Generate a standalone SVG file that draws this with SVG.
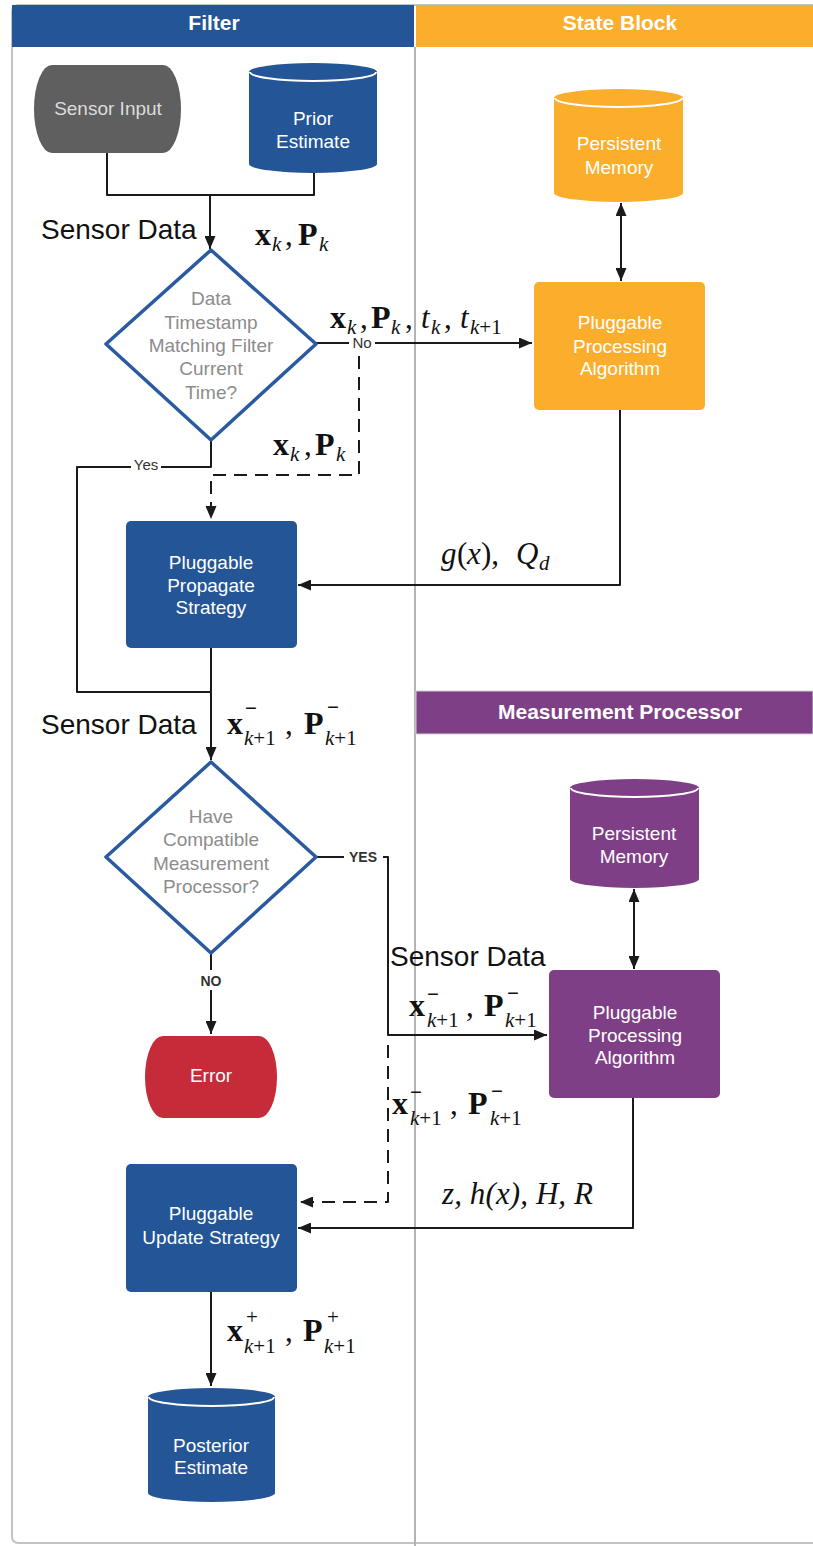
<svg xmlns="http://www.w3.org/2000/svg" width="813" height="1546" viewBox="0 0 813 1546">
<defs>
<style>
.hdr{font-family:"Liberation Sans",Arial,sans-serif;font-weight:bold;font-size:21px;fill:#fff;text-anchor:middle}
.nt{font-family:"Liberation Sans",Arial,sans-serif;font-size:19px;fill:#fff;text-anchor:middle}
.dt{font-family:"Liberation Sans",Arial,sans-serif;font-size:19px;fill:#8c8c8c;text-anchor:middle}
.lbl{font-family:"Liberation Sans",Arial,sans-serif;font-size:28px;fill:#111}
.m{font-family:"Liberation Serif","Times New Roman",serif;fill:#111;font-size:31px}
.mb{font-weight:bold;font-size:32px}
.ms{font-size:21px}
.sup{font-size:21px;font-weight:bold}
.it{font-style:italic}
.edge{fill:none;stroke:#1a1a1a;stroke-width:2;stroke-linejoin:round}
.dash{stroke-dasharray:13 8}
.tag{font-family:"Liberation Sans",Arial,sans-serif;font-size:15px;fill:#333;text-anchor:middle}
.tagb{font-family:"Liberation Sans",Arial,sans-serif;font-size:14px;font-weight:bold;fill:#333;text-anchor:middle}
.lid{fill:none;stroke:#fff;stroke-width:2}
</style>
<marker id="ah" viewBox="0 0 13 11" refX="13" refY="5.5" markerWidth="13" markerHeight="11" markerUnits="userSpaceOnUse" orient="auto-start-reverse">
<path d="M0,0 L13,5.5 L0,11 Z" fill="#1a1a1a"/>
</marker>
</defs>
<rect width="813" height="1546" fill="#fff"/>

<g id="lanes">
<rect x="12" y="5" width="830" height="1538" rx="6" fill="none" stroke="#c4c4c4" stroke-width="2"/>
<line x1="415" y1="47" x2="415" y2="1546" stroke="#b4b4b4" stroke-width="2"/>
<rect x="12" y="5" width="402" height="42" fill="#245596"/>
<text class="hdr" x="214" y="30">Filter</text>
<rect x="416" y="5" width="397" height="42" fill="#fbae2c"/>
<text class="hdr" x="620" y="30">State Block</text>
<rect x="416" y="691" width="397" height="43" fill="#7f3f86" stroke="#d0d0d0" stroke-width="1"/>
<text class="hdr" x="620" y="719">Measurement Processor</text>
</g>

<g id="connectors">
<path class="edge" d="M107,153 V195 H314 V173"/>
<path class="edge" d="M210,195 V249" marker-end="url(#ah)"/>
<path class="edge" d="M316,343 H532" marker-end="url(#ah)"/>
<path class="edge dash" d="M359,356 V475 H211 V519" marker-end="url(#ah)"/>
<path class="edge" d="M211,440 V467 H77 V692 H211"/>
<path class="edge" d="M211,648 V760" marker-end="url(#ah)"/>
<path class="edge" d="M620,410 V585 H298" marker-end="url(#ah)"/>
<path class="edge" d="M621,203 V281" marker-start="url(#ah)" marker-end="url(#ah)"/>
<path class="edge" d="M316,857 H388 V1035 H547" marker-end="url(#ah)"/>
<path class="edge dash" d="M388,1045 V1202 H300" marker-end="url(#ah)"/>
<path class="edge" d="M211,953 V1034" marker-end="url(#ah)"/>
<path class="edge" d="M634,889 V969" marker-start="url(#ah)" marker-end="url(#ah)"/>
<path class="edge" d="M633,1098 V1228 H298" marker-end="url(#ah)"/>
<path class="edge" d="M211,1292 V1386" marker-end="url(#ah)"/>
<rect x="349" y="335" width="26" height="16" fill="#fff"/>
<text class="tag" x="362" y="348">No</text>
<rect x="131" y="458" width="30" height="16" fill="#fff"/>
<text class="tag" x="146" y="470">Yes</text>
<rect x="344" y="849" width="39" height="16" fill="#fff"/>
<text class="tagb" x="363" y="862">YES</text>
<rect x="198" y="970" width="26" height="20" fill="#fff"/>
<text class="tagb" x="211" y="986">NO</text>
</g>

<g id="labels">
<text class="lbl" x="41" y="239">Sensor Data</text>
<text class="m"><tspan class="mb" x="255" y="245">x</tspan><tspan class="ms it" x="272" y="251">k</tspan><tspan x="285" y="245">,</tspan><tspan class="mb" x="298" y="245">P</tspan><tspan class="ms it" x="319" y="251">k</tspan></text>
<text class="m"><tspan class="mb" x="330" y="328">x</tspan><tspan class="ms it" x="347" y="334">k</tspan><tspan x="360" y="328">,</tspan><tspan class="mb" x="371" y="328">P</tspan><tspan class="ms it" x="391" y="334">k</tspan><tspan x="405" y="328">,</tspan><tspan class="it" x="421" y="328">t</tspan><tspan class="ms it" x="431" y="334">k</tspan><tspan x="444" y="328">,</tspan><tspan class="it" x="460" y="328">t</tspan><tspan class="ms" x="470" y="334"><tspan class="it">k</tspan>+1</tspan></text>
<text class="m"><tspan class="mb" x="273" y="455">x</tspan><tspan class="ms it" x="290" y="461">k</tspan><tspan x="304" y="455">,</tspan><tspan class="mb" x="315" y="455">P</tspan><tspan class="ms it" x="336" y="461">k</tspan></text>
<text class="m"><tspan class="it" x="441" y="564">g</tspan><tspan x="457" y="564">(</tspan><tspan class="it" x="467" y="564">x</tspan><tspan x="481" y="564">),</tspan><tspan class="it" x="516" y="564">Q</tspan><tspan class="ms it" x="539" y="570">d</tspan></text>
<text class="lbl" x="41" y="734">Sensor Data</text>
<text class="m"><tspan class="mb" x="227" y="734">x</tspan><tspan class="sup" x="245" y="715">−</tspan><tspan class="ms" x="244" y="745"><tspan class="it">k</tspan>+1</tspan><tspan x="285" y="734">,</tspan><tspan class="mb" x="304" y="734">P</tspan><tspan class="sup" x="327" y="714">−</tspan><tspan class="ms" x="325" y="745"><tspan class="it">k</tspan>+1</tspan></text>
<text class="lbl" x="390" y="966">Sensor Data</text>
<text class="m"><tspan class="mb" x="409" y="1016">x</tspan><tspan class="sup" x="427" y="1001">−</tspan><tspan class="ms" x="427" y="1027"><tspan class="it">k</tspan>+1</tspan><tspan x="466" y="1016">,</tspan><tspan class="mb" x="484" y="1016">P</tspan><tspan class="sup" x="507" y="1000">−</tspan><tspan class="ms" x="505" y="1027"><tspan class="it">k</tspan>+1</tspan></text>
<text class="m"><tspan class="mb" x="392" y="1114">x</tspan><tspan class="sup" x="410" y="1099">−</tspan><tspan class="ms" x="410" y="1125"><tspan class="it">k</tspan>+1</tspan><tspan x="450" y="1114">,</tspan><tspan class="mb" x="468" y="1114">P</tspan><tspan class="sup" x="491" y="1098">−</tspan><tspan class="ms" x="490" y="1125"><tspan class="it">k</tspan>+1</tspan></text>
<text class="m it" x="442" y="1204" textLength="151" lengthAdjust="spacing">z, h(x), H, R</text>
<text class="m"><tspan class="mb" x="227" y="1341">x</tspan><tspan class="ms" x="246" y="1324">+</tspan><tspan class="ms" x="244" y="1353"><tspan class="it">k</tspan>+1</tspan><tspan x="285" y="1341">,</tspan><tspan class="mb" x="303" y="1341">P</tspan><tspan class="ms" x="327" y="1324">+</tspan><tspan class="ms" x="324" y="1353"><tspan class="it">k</tspan>+1</tspan></text>
</g>

<g id="sensor-input">
<path d="M52,65 H163 A18,44 0 0 1 163,153 H52 A18,44 0 0 1 52,65 Z" fill="#5f5f5f"/>
<text class="nt" x="108" y="115" style="fill:#dcdcdc">Sensor Input</text>
</g>

<g id="prior-estimate">
<path d="M249,72 A64,9 0 0 1 377,72 V164 A64,9 0 0 1 249,164 Z" fill="#245596"/>
<path class="lid" d="M250,72 A63,9 0 0 0 376,72"/>
<text class="nt" x="313" y="125">Prior</text>
<text class="nt" x="313" y="148">Estimate</text>
</g>

<g id="decision-timestamp">
<polygon points="211,250 316,344 211,440 106,344" fill="#fff" stroke="#2a5a9f" stroke-width="3.5" stroke-linejoin="round"/>
<text class="dt" x="211" y="305">Data</text>
<text class="dt" x="211" y="329">Timestamp</text>
<text class="dt" x="211" y="352">Matching Filter</text>
<text class="dt" x="211" y="375">Current</text>
<text class="dt" x="211" y="399">Time?</text>
</g>

<g id="state-memory">
<path d="M554,98 A64.5,9 0 0 1 683,98 V193 A64.5,9 0 0 1 554,193 Z" fill="#fbae2c"/>
<path class="lid" d="M555,98 A63.5,9 0 0 0 682,98"/>
<text class="nt" x="619" y="150">Persistent</text>
<text class="nt" x="619" y="174">Memory</text>
</g>

<g id="state-algorithm">
<rect x="534" y="282" width="171" height="128" rx="5" fill="#fbae2c"/>
<text class="nt" x="620" y="329">Pluggable</text>
<text class="nt" x="620" y="353">Processing</text>
<text class="nt" x="620" y="375">Algorithm</text>
</g>

<g id="propagate">
<rect x="126" y="521" width="171" height="127" rx="5" fill="#245596"/>
<text class="nt" x="211" y="569">Pluggable</text>
<text class="nt" x="211" y="592">Propagate</text>
<text class="nt" x="211" y="614">Strategy</text>
</g>

<g id="decision-processor">
<polygon points="211,762 316,857 211,953 106,857" fill="#fff" stroke="#2a5a9f" stroke-width="3.5" stroke-linejoin="round"/>
<text class="dt" x="211" y="823">Have</text>
<text class="dt" x="211" y="846">Compatible</text>
<text class="dt" x="211" y="870">Measurement</text>
<text class="dt" x="211" y="893">Processor?</text>
</g>

<g id="error">
<path d="M163,1036 H259 A18,41 0 0 1 259,1118 H163 A18,41 0 0 1 163,1036 Z" fill="#c62b39"/>
<text class="nt" x="211" y="1082">Error</text>
</g>

<g id="mp-memory">
<path d="M570,788 A64.5,9 0 0 1 699,788 V879 A64.5,9 0 0 1 570,879 Z" fill="#7f3f86"/>
<path class="lid" d="M571,788 A63.5,9 0 0 0 698,788"/>
<text class="nt" x="634" y="840">Persistent</text>
<text class="nt" x="634" y="863">Memory</text>
</g>

<g id="mp-algorithm">
<rect x="549" y="970" width="171" height="128" rx="5" fill="#7f3f86"/>
<text class="nt" x="635" y="1019">Pluggable</text>
<text class="nt" x="635" y="1042">Processing</text>
<text class="nt" x="635" y="1064">Algorithm</text>
</g>

<g id="update">
<rect x="126" y="1164" width="171" height="128" rx="5" fill="#245596"/>
<text class="nt" x="211" y="1220">Pluggable</text>
<text class="nt" x="211" y="1244">Update Strategy</text>
</g>

<g id="posterior-estimate">
<path d="M148,1397 A63.5,9 0 0 1 275,1397 V1493 A63.5,9 0 0 1 148,1493 Z" fill="#245596"/>
<path class="lid" d="M149,1397 A62.5,9 0 0 0 274,1397"/>
<text class="nt" x="211" y="1452">Posterior</text>
<text class="nt" x="211" y="1474">Estimate</text>
</g>
</svg>
